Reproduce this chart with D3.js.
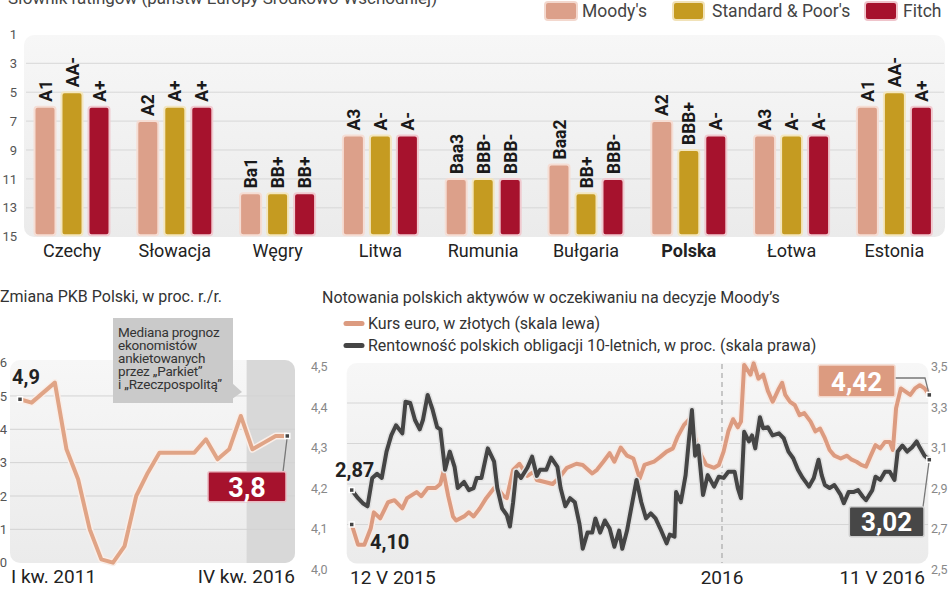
<!DOCTYPE html>
<html><head><meta charset="utf-8">
<script src="https://cdn.jsdelivr.net/npm/d3@7"></script>
<style>
body{margin:0;background:#fff;}
svg{display:block;font-family:Roboto,"Noto Sans",sans-serif;}
</style></head>
<body><svg id="c" width="948" height="593"></svg>
<script>
// ---------- DATA ----------
const countries = ["Czechy","Słowacja","Węgry","Litwa","Rumunia","Bułgaria","Polska","Łotwa","Estonia"];
const agencies = ["Moody's","Standard & Poor's","Fitch"];
const moodysRating = ["A1","A2","Ba1","A3","Baa3","Baa2","A2","A3","A1"];
const spRating     = ["AA-","A+","BB+","A-","BBB-","BB+","BBB+","A-","AA-"];
const fitchRating  = ["A+","A+","BB+","A-","BBB-","BBB-","A-","A-","A+"];
const moodysScore = [6,7,12,8,11,10,7,8,6];
const spScore     = [5,6,12,8,11,12,9,8,5];
const fitchScore  = [6,6,12,8,11,11,8,8,6];
const ratingTicks = [1,3,5,7,9,11,13,15];

const quarters = ["I 2011","II 2011","III 2011","IV 2011","I 2012","II 2012","III 2012","IV 2012",
  "I 2013","II 2013","III 2013","IV 2013","I 2014","II 2014","III 2014","IV 2014",
  "I 2015","II 2015","III 2015","IV 2015","I 2016","II 2016","III 2016","IV 2016"];
const gdp = [4.9,4.8,5.1,5.4,3.4,2.5,1.0,0.1,0.0,0.5,2.0,2.7,3.3,3.3,3.3,3.3,3.7,3.1,3.4,4.4,3.4,3.6,3.8,3.8];
const gdpTicks = [0,1,2,3,4,5,6];

const eurDay = [0,4,8,12,14,18,23,27,32,35,41,44,48,53,56,58,61,64,66,71,74,77,81,85,90,93,96,98,102,106,111,115,117,122,127,131,136,142,146,152,155,159,163,166,170,174,178,182,185,191,195,199,203,206,210,213,216,218,221,224,229,232,235,238,241,244,246,248,252,254,257,260,263,266,270,272,274,277,280,283,286,290,293,296,299,302,305,309,313,316,319,322,325,328,331,334,337,340,342,344,347,350,353,356,359,362,365];
const eurVal = [4.10,4.05,4.05,4.09,4.13,4.115,4.155,4.16,4.14,4.165,4.18,4.17,4.19,4.19,4.20,4.23,4.17,4.12,4.11,4.12,4.13,4.12,4.14,4.165,4.19,4.185,4.17,4.165,4.235,4.25,4.22,4.23,4.21,4.205,4.20,4.215,4.24,4.25,4.247,4.226,4.235,4.255,4.276,4.255,4.29,4.27,4.263,4.214,4.247,4.255,4.267,4.28,4.288,4.317,4.346,4.358,4.333,4.296,4.27,4.247,4.24,4.247,4.28,4.33,4.36,4.34,4.354,4.494,4.47,4.498,4.46,4.47,4.43,4.403,4.436,4.45,4.42,4.403,4.395,4.37,4.375,4.354,4.33,4.337,4.313,4.284,4.27,4.263,4.27,4.26,4.255,4.247,4.243,4.27,4.296,4.288,4.304,4.304,4.284,4.387,4.436,4.428,4.42,4.436,4.444,4.436,4.42];
const yieldDay = [0,4,7,10,13,16,19,22,25,28,32,34,37,40,43,45,48,51,54,56,59,62,65,67,71,74,77,79,82,86,90,92,95,98,100,102,104,107,111,114,117,119,123,126,130,132,135,138,141,144,146,149,152,154,157,160,163,166,169,171,174,177,180,183,186,189,192,195,199,201,204,205,208,211,213,215,217,219,222,225,229,232,235,238,242,244,246,248,251,253,255,258,260,263,266,270,273,276,279,282,285,289,292,295,297,299,302,305,309,311,314,317,320,323,325,329,331,334,337,340,343,345,348,351,354,357,359,362,365];
const yieldVal = [2.87,2.83,2.805,2.79,2.93,2.95,2.93,3.06,3.14,3.19,3.15,3.306,3.30,3.216,3.17,3.216,3.34,3.27,3.18,3.17,2.97,3.06,2.985,2.88,2.91,2.87,2.88,2.93,2.93,3.076,3.01,2.88,2.78,2.747,2.69,2.81,2.96,2.93,2.98,3.035,2.94,2.97,2.97,3.03,2.985,2.88,2.79,2.83,2.81,2.70,2.58,2.66,2.66,2.73,2.66,2.72,2.68,2.59,2.67,2.58,2.67,2.796,2.92,2.81,2.73,2.755,2.73,2.68,2.607,2.65,2.64,2.86,2.81,2.944,3.11,3.265,3.04,3.09,2.846,2.944,2.887,2.936,2.93,2.96,2.96,2.88,2.83,3.158,3.11,3.14,3.076,3.23,3.175,3.18,3.14,3.15,3.126,3.06,3.027,2.97,2.93,2.887,2.93,3.02,2.944,2.895,2.88,2.895,2.846,2.805,2.86,2.86,2.87,2.837,2.82,2.87,2.936,2.92,2.96,2.96,2.92,3.06,3.09,3.06,3.08,3.11,3.08,3.04,3.02];
const eurTicks = [4.0,4.1,4.2,4.3,4.4,4.5];
const yieldTicks = [2.5,2.7,2.9,3.1,3.3,3.5];
const startDate = new Date(2015,4,12);
const endDate = new Date(2016,4,11);
const yearMark = new Date(2016,0,1);

// ---------- STYLE ----------
const C = {moodys:"#dca08a", sp:"#c59b21", fitch:"#a6122d", eur:"#dc9b80", yld:"#454545", text:"#262626"};
const pl = d3.formatLocale({decimal:",",thousands:" ",grouping:[3],currency:["","zł"]});
const f1 = pl.format(".1f"), f2 = pl.format(".2f");

const svg = d3.select("#c");
const defs = svg.append("defs");
const grad = defs.append("linearGradient").attr("id","pg").attr("x1",0).attr("y1",0).attr("x2",0).attr("y2",1);
grad.append("stop").attr("offset","0%").attr("stop-color","#f7f7f7");
grad.append("stop").attr("offset","100%").attr("stop-color","#ebebeb");

// cut title at top
svg.append("text").attr("x",8).attr("y",4).attr("font-size",17).attr("fill","#444")
  .text("Słownik ratingów (państw Europy Środkowo-Wschodniej)");

// ---------- TOP: ratings ----------
const yR = d3.scaleLinear().domain([1,15]).range([34.4,236.7]);
const xC = d3.scaleBand().domain(countries).range([20.6,945.8]);
const xA = d3.scalePoint().domain(agencies).range([-27,27]);
const barW = 21;

svg.append("rect").attr("x",24).attr("y",35).attr("width",921).attr("height",202)
  .attr("rx",10).attr("fill","url(#pg)");
svg.append("g").selectAll("line").data(ratingTicks.filter(t=>t>1&&t<15)).join("line")
  .attr("x1",26).attr("x2",944).attr("y1",d=>yR(d)).attr("y2",d=>yR(d))
  .attr("stroke","#d7d7d7").attr("stroke-width",1);

const yAxTop = svg.append("g").attr("transform","translate(17,0)")
  .call(d3.axisLeft(yR).tickValues(ratingTicks).tickSize(0).tickPadding(0));
yAxTop.select(".domain").remove();
yAxTop.selectAll("text").attr("font-size",13).attr("fill","#555").attr("font-family","Roboto");

const series = [
  {a:agencies[0], s:moodysScore, r:moodysRating, c:C.moodys, halo:"#f5ddd4"},
  {a:agencies[1], s:spScore, r:spRating, c:C.sp, halo:"#f3e6bf"},
  {a:agencies[2], s:fitchScore, r:fitchRating, c:C.fitch, halo:"#f0c9cf"}
];
const barsG = svg.append("g");
series.forEach(se=>{
  countries.forEach((ct,i)=>{
    const cx = xC(ct)+xC.bandwidth()/2 + xA(se.a);
    const top = yR(se.s[i]);
    barsG.append("rect").attr("x",cx-barW/2).attr("y",top).attr("width",barW)
      .attr("height",yR(15)-1.5-top).attr("rx",3).attr("fill",se.c)
      .attr("stroke",se.halo).attr("stroke-width",2);
    barsG.append("text").attr("transform",`translate(${cx+6.5},${top-5}) rotate(-90)`)
      .attr("font-size",17.5).attr("font-weight","bold").attr("fill","#1a1a1a").text(se.r[i]);
  });
});
svg.append("g").selectAll("text").data(countries).join("text")
  .attr("x",d=>xC(d)+xC.bandwidth()/2).attr("y",257).attr("text-anchor","middle")
  .attr("font-size",18).attr("fill","#222").attr("font-weight",d=>d==="Polska"?"bold":"normal").text(d=>d);

// legend
const leg = [{x:545,w:32,c:C.moodys,h:"#f3d8ce",t:agencies[0],tx:582},
             {x:673,w:31,c:C.sp,h:"#f1e2b8",t:agencies[1],tx:712},
             {x:865,w:32,c:C.fitch,h:"#efc4cb",t:agencies[2],tx:903}];
leg.forEach(l=>{
  svg.append("rect").attr("x",l.x).attr("y",2).attr("width",l.w).attr("height",18).attr("rx",3)
    .attr("fill",l.c).attr("stroke",l.h).attr("stroke-width",2);
  svg.append("text").attr("x",l.tx).attr("y",17).attr("font-size",17.5).attr("fill","#444").text(l.t);
});

// ---------- BOTTOM LEFT: GDP ----------
const xQ = d3.scalePoint().domain(quarters).range([20,287.3]);
const yG = d3.scaleLinear().domain([0,6]).range([562.7,362.6]);
svg.append("text").attr("x",0).attr("y",302).attr("font-size",16).attr("fill","#333")
  .text("Zmiana PKB Polski, w proc. r./r.");
defs.append("clipPath").attr("id","gclip").append("rect").attr("x",10).attr("y",360)
  .attr("width",285).attr("height",203).attr("rx",10);
svg.append("rect").attr("x",10).attr("y",360).attr("width",285).attr("height",203).attr("rx",10).attr("fill","url(#pg)");
const shadeX = (xQ(quarters[19])+xQ(quarters[20]))/2;
svg.append("rect").attr("clip-path","url(#gclip)").attr("x",shadeX).attr("y",360)
  .attr("width",295-shadeX).attr("height",203).attr("fill","#d8d8d8");
svg.append("g").selectAll("line").data([1,2,3,4,5]).join("line")
  .attr("x1",10).attr("x2",295).attr("y1",d=>yG(d)).attr("y2",d=>yG(d))
  .attr("stroke","#d3d3d3").attr("stroke-width",1);
const yAxG = svg.append("g").attr("transform","translate(7,0)")
  .call(d3.axisLeft(yG).tickValues(gdpTicks).tickSize(0).tickPadding(0).tickFormat(d3.format("d")));
yAxG.select(".domain").remove();
yAxG.selectAll("text").attr("font-size",13).attr("fill","#555").attr("font-family","Roboto");

const gLine = d3.line().x((d,i)=>xQ(quarters[i])).y(d=>yG(d)).curve(d3.curveLinear);
svg.append("path").attr("d",gLine(gdp)).attr("fill","none").attr("stroke","#faeee8").attr("stroke-width",7).attr("stroke-linejoin","round");
svg.append("path").attr("d",gLine(gdp)).attr("fill","none").attr("stroke","#e0a486").attr("stroke-width",4).attr("stroke-linejoin","round");

// callout
svg.append("polygon").attr("points","232,383 242,392 232,399").attr("fill","#cacaca");
svg.append("rect").attr("x",113).attr("y",318).attr("width",120).attr("height",85).attr("fill","#cacaca");
const callout = svg.append("text").attr("x",118).attr("y",337).attr("font-size",13.5).attr("fill","#333")
  .attr("letter-spacing","-0.2");
["Mediana prognoz","ekonomistów","ankietowanych","przez „Parkiet”","i „Rzeczpospolitą”"].forEach((t,i)=>{
  callout.append("tspan").attr("x",118).attr("dy",i===0?0:13).text(t);
});
// end markers & labels
const g0 = [xQ(quarters[0]), yG(gdp[0])], gN = [xQ(quarters[23]), yG(gdp[23])];
svg.append("line").attr("x1",gN[0]).attr("y1",gN[1]).attr("x2",283).attr("y2",472).attr("stroke","#777").attr("stroke-width",1.3);
svg.append("rect").attr("x",208).attr("y",471.7).attr("width",78).attr("height",30).attr("rx",2)
  .attr("fill",C.fitch).attr("stroke","#eab9c1").attr("stroke-width",1.5);
svg.append("text").attr("x",247).attr("y",497).attr("text-anchor","middle").attr("font-size",27)
  .attr("font-weight","bold").attr("fill","#fff").text(f1(gdp[23]));
svg.append("text").attr("x",12).attr("y",384).attr("font-size",20).attr("font-weight","bold").attr("fill","#222").text(f1(gdp[0]));
[g0,gN].forEach(p=>svg.append("rect").attr("x",p[0]-2.5).attr("y",p[1]-2.5).attr("width",5).attr("height",5)
  .attr("fill","#444").attr("stroke","#fff").attr("stroke-width",1.5));
svg.append("text").attr("x",11).attr("y",583).attr("font-size",19).attr("fill","#222").text("I kw. 2011");
svg.append("text").attr("x",295).attr("y",583).attr("text-anchor","end").attr("font-size",19).attr("fill","#222").text("IV kw. 2016");

// ---------- BOTTOM RIGHT: EUR & yields ----------
const xT = d3.scaleTime().domain([startDate,endDate]).range([351.7,929.3]);
const yL = d3.scaleLinear().domain([4.0,4.5]).range([565,362.5]);
const yRt = d3.scaleLinear().domain([2.5,3.5]).range([565,362.5]);
svg.append("text").attr("x",322).attr("y",303).attr("font-size",16).attr("fill","#333")
  .text("Notowania polskich aktywów w oczekiwaniu na decyzje Moody’s");
svg.append("line").attr("x1",346).attr("x2",362).attr("y1",323.5).attr("y2",323.5).attr("stroke",C.eur).attr("stroke-width",5).attr("stroke-linecap","round");
svg.append("line").attr("x1",346).attr("x2",362).attr("y1",345.5).attr("y2",345.5).attr("stroke",C.yld).attr("stroke-width",5).attr("stroke-linecap","round");
svg.append("text").attr("x",368).attr("y",329).attr("font-size",16).attr("fill","#333").text("Kurs euro, w złotych (skala lewa)");
svg.append("text").attr("x",368).attr("y",351).attr("font-size",16).attr("fill","#333").text("Rentowność polskich obligacji 10-letnich, w proc. (skala prawa)");

svg.append("rect").attr("x",346.7).attr("y",363).attr("width",581.6).attr("height",200.5).attr("rx",10).attr("fill","url(#pg)");
svg.append("g").selectAll("line").data(eurTicks.filter(t=>t>4.0&&t<4.5)).join("line")
  .attr("x1",347).attr("x2",928).attr("y1",d=>yL(d)).attr("y2",d=>yL(d))
  .attr("stroke","#d6d6d6").attr("stroke-width",1);
svg.append("line").attr("x1",xT(yearMark)).attr("x2",xT(yearMark)).attr("y1",364).attr("y2",563)
  .attr("stroke","#a8a8a8").attr("stroke-width",1.2).attr("stroke-dasharray","5,4");

const axL = svg.append("g").attr("transform","translate(311,4)")
  .call(d3.axisRight(yL).tickValues(eurTicks).tickSize(0).tickPadding(0).tickFormat(f1));
axL.select(".domain").remove();
axL.selectAll("text").attr("font-size",12.5).attr("fill","#888").attr("font-family","Roboto");
const axR = svg.append("g").attr("transform","translate(931,4)")
  .call(d3.axisRight(yRt).tickValues(yieldTicks).tickSize(0).tickPadding(0).tickFormat(f1));
axR.select(".domain").remove();
axR.selectAll("text").attr("font-size",12.5).attr("fill","#888").attr("font-family","Roboto");

const dayDate = d => d3.timeDay.offset(startDate,d);
const eurPts = eurDay.map((d,i)=>[dayDate(d),eurVal[i]]);
const yldPts = yieldDay.map((d,i)=>[dayDate(d),yieldVal[i]]);
const lE = d3.line().x(d=>xT(d[0])).y(d=>yL(d[1]));
const lY = d3.line().x(d=>xT(d[0])).y(d=>yRt(d[1]));
svg.append("path").attr("d",lE(eurPts)).attr("fill","none").attr("stroke","#f8ebe5").attr("stroke-width",7).attr("stroke-linejoin","round");
svg.append("path").attr("d",lE(eurPts)).attr("fill","none").attr("stroke",C.eur).attr("stroke-width",4).attr("stroke-linejoin","round");
svg.append("path").attr("d",lY(yldPts)).attr("fill","none").attr("stroke","#e2e2e2").attr("stroke-width",7).attr("stroke-linejoin","round");
svg.append("path").attr("d",lY(yldPts)).attr("fill","none").attr("stroke",C.yld).attr("stroke-width",4).attr("stroke-linejoin","round");

const e0=[xT(eurPts[0][0]),yL(eurVal[0])], eN=[xT(eurPts[eurPts.length-1][0]),yL(eurVal[eurVal.length-1])];
const y0=[xT(yldPts[0][0]),yRt(yieldVal[0])], yN=[xT(yldPts[yldPts.length-1][0]),yRt(yieldVal[yieldVal.length-1])];
// connectors
svg.append("path").attr("d",`M895,378H925L${eN[0]},${eN[1]}`).attr("fill","none").attr("stroke","#777").attr("stroke-width",1.3);
svg.append("line").attr("x1",923).attr("y1",507).attr("x2",yN[0]).attr("y2",yN[1]).attr("stroke","#777").attr("stroke-width",1.3);
svg.append("rect").attr("x",818.3).attr("y",365).attr("width",76.7).attr("height",31.7).attr("rx",2)
  .attr("fill",C.eur).attr("stroke","#f4d9cd").attr("stroke-width",1.5);
svg.append("text").attr("x",856.6).attr("y",391).attr("text-anchor","middle").attr("font-size",26)
  .attr("font-weight","bold").attr("fill","#fff").text(f2(eurVal[eurVal.length-1]));
svg.append("rect").attr("x",849.3).attr("y",506.7).attr("width",74.7).attr("height",30).attr("rx",2)
  .attr("fill","#474747").attr("stroke","#d0d0d0").attr("stroke-width",1.5);
svg.append("text").attr("x",886.6).attr("y",531).attr("text-anchor","middle").attr("font-size",26)
  .attr("font-weight","bold").attr("fill","#fff").text(f2(yieldVal[yieldVal.length-1]));
[e0,eN,y0,yN].forEach(p=>svg.append("rect").attr("x",p[0]-2.5).attr("y",p[1]-2.5).attr("width",5).attr("height",5)
  .attr("fill","#444").attr("stroke","#fff").attr("stroke-width",1.5));
svg.append("text").attr("x",335).attr("y",477).attr("font-size",20).attr("font-weight","bold").attr("fill","#222").text(f2(yieldVal[0]));
svg.append("text").attr("x",370).attr("y",549).attr("font-size",20).attr("font-weight","bold").attr("fill","#222").text(f2(eurVal[0]));

svg.append("text").attr("x",350).attr("y",584).attr("font-size",19).attr("fill","#222").text("12 V 2015");
svg.append("text").attr("x",xT(yearMark)).attr("y",584).attr("text-anchor","middle").attr("font-size",19).attr("fill","#222").text("2016");
svg.append("text").attr("x",925).attr("y",584).attr("text-anchor","end").attr("font-size",19).attr("fill","#222").text("11 V 2016");
</script></body></html>
